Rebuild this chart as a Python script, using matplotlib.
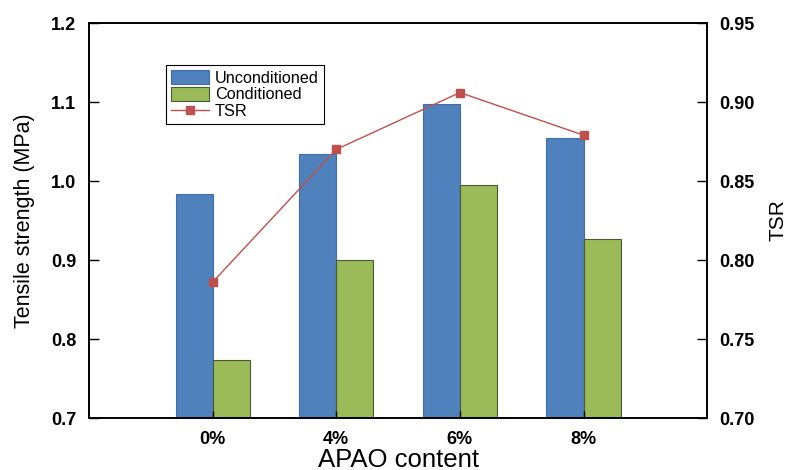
import numpy as np
import matplotlib.pyplot as plt

plt.rcParams['font.family'] = ['Liberation Sans', 'DejaVu Sans']

categories = ['0%', '4%', '6%', '8%']
unconditioned = [0.983, 1.034, 1.098, 1.055]
conditioned = [0.773, 0.900, 0.995, 0.927]
tsr = [0.786, 0.870, 0.906, 0.879]

x = np.arange(len(categories))
w = 0.3

fig = plt.figure(figsize=(7.91, 4.70), dpi=100)
ax = fig.add_axes([0.1125, 0.1106, 0.7815, 0.8404])
ax2 = ax.twinx()

b1 = ax.bar(x - w / 2, unconditioned, w, color='#4F81BD', edgecolor='#3F6EA8', linewidth=0.8)
b2 = ax.bar(x + w / 2, conditioned, w, color='#9BBB59', edgecolor='#4A5A35', linewidth=0.8)
l1, = ax2.plot(x, tsr, '-s', color='#C0504D', lw=1.0, ms=6, mec='#C0504D')

ax.set_xlim(-1, 4)
ax.set_ylim(0.7, 1.2)
ax2.set_ylim(0.70, 0.95)
ax.set_xticks(x)
ax.set_xticklabels(categories, fontsize=13, fontweight='bold')
ax.set_yticks(np.arange(0.7, 1.21, 0.1))
ax.set_yticklabels(['%.1f' % v for v in np.arange(0.7, 1.21, 0.1)], fontsize=13, fontweight='bold')
ax2.set_yticks(np.arange(0.70, 0.951, 0.05))
ax2.set_yticklabels(['%.2f' % v for v in np.arange(0.70, 0.951, 0.05)], fontsize=13, fontweight='bold')

ax.tick_params(axis='both', direction='in', length=7, width=1, pad=9)
ax2.tick_params(axis='y', direction='in', length=7, width=1, pad=9)
ax.tick_params(axis='x', length=5, pad=9)

for s in ax.spines.values():
    s.set_linewidth(1.2)
for s in ax2.spines.values():
    s.set_linewidth(1.2)

ax.set_xlabel('APAO content', fontsize=18.5, labelpad=0)
ax.set_ylabel('Tensile strength (MPa)', fontsize=15.5, labelpad=12)
ax2.set_ylabel('TSR', fontsize=15, labelpad=10)

leg = ax2.legend([b1, b2, l1], ['Unconditioned', 'Conditioned', 'TSR'],
                 loc='upper left', bbox_to_anchor=(0.125, 0.893), fontsize=11.7,
                 frameon=True, fancybox=False, edgecolor='black', framealpha=1,
                 handlelength=2.3, handleheight=0.9, labelspacing=0.1,
                 borderpad=0.3, handletextpad=0.4, borderaxespad=0)
leg.get_frame().set_linewidth(0.8)

fig.savefig('out.png', dpi=100)
